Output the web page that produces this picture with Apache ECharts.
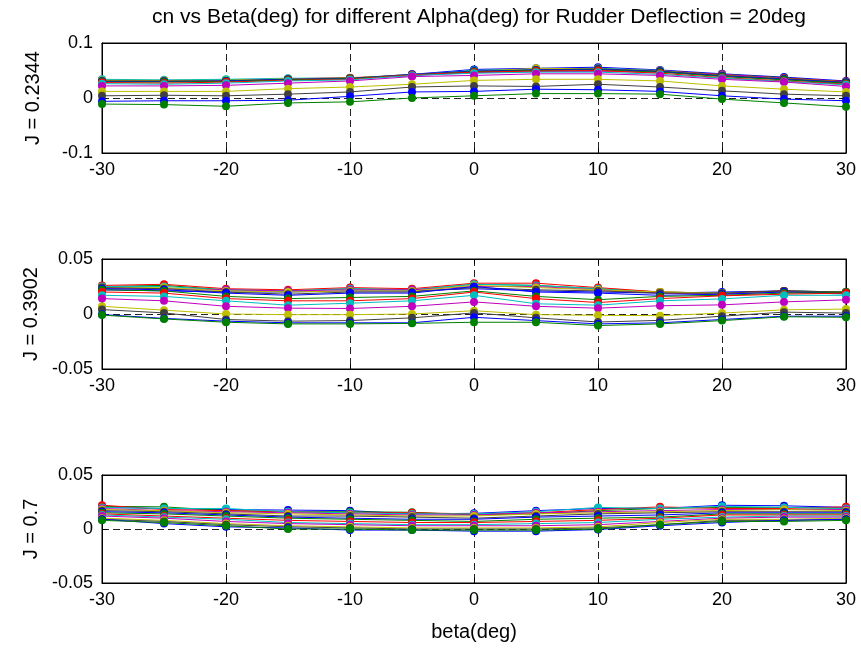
<!DOCTYPE html>
<html>
<head>
<meta charset="utf-8">
<script src="https://cdn.jsdelivr.net/npm/echarts@6/dist/echarts.min.js"></script>
<style>html,body{margin:0;padding:0;background:#fff}#c{width:861px;height:649px}</style>
</head>
<body>
<div id="c"></div>
<script>
const titleText = 'cn vs Beta(deg) for different Alpha(deg) for Rudder Deflection = 20deg';
const xName = 'beta(deg)';
const beta = [-30, -25, -20, -15, -10, -5, 0, 5, 10, 15, 20, 25, 30];
const panelNames = ['J = 0.2344', 'J = 0.3902', 'J = 0.7'];
const yRanges = [[-0.1, 0.1, 0.1], [-0.05, 0.05, 0.05], [-0.05, 0.05, 0.05]];

// 16 alpha series per panel (s1 .. s16)
const cnJ02344 = [
  [0.031, 0.032, 0.032, 0.035, 0.036, 0.043, 0.052, 0.054, 0.056, 0.051, 0.044, 0.038, 0.031],
  [0.032, 0.031, 0.033, 0.034, 0.036, 0.041, 0.050, 0.052, 0.053, 0.049, 0.043, 0.037, 0.028],
  [0.033, 0.031, 0.032, 0.035, 0.037, 0.041, 0.049, 0.052, 0.053, 0.050, 0.042, 0.036, 0.030],
  [0.034, 0.033, 0.034, 0.036, 0.036, 0.042, 0.050, 0.052, 0.054, 0.050, 0.040, 0.034, 0.026],
  [0.030, 0.030, 0.031, 0.034, 0.035, 0.041, 0.046, 0.048, 0.048, 0.047, 0.043, 0.036, 0.024],
  [0.032, 0.032, 0.032, 0.035, 0.036, 0.043, 0.048, 0.054, 0.053, 0.049, 0.041, 0.035, 0.029],
  [0.031, 0.031, 0.031, 0.034, 0.036, 0.042, 0.047, 0.051, 0.053, 0.049, 0.041, 0.035, 0.029],
  [0.030, 0.030, 0.031, 0.034, 0.035, 0.043, 0.049, 0.051, 0.052, 0.048, 0.040, 0.034, 0.028],
  [0.029, 0.029, 0.030, 0.033, 0.035, 0.042, 0.048, 0.050, 0.051, 0.047, 0.039, 0.033, 0.027],
  [0.028, 0.027, 0.029, 0.032, 0.034, 0.042, 0.047, 0.049, 0.050, 0.045, 0.037, 0.031, 0.025],
  [0.026, 0.025, 0.027, 0.031, 0.033, 0.041, 0.045, 0.047, 0.047, 0.043, 0.036, 0.030, 0.024],
  [0.022, 0.022, 0.023, 0.027, 0.031, 0.039, 0.041, 0.044, 0.044, 0.041, 0.034, 0.029, 0.021],
  [0.012, 0.012, 0.012, 0.017, 0.020, 0.025, 0.032, 0.034, 0.034, 0.031, 0.022, 0.016, 0.011],
  [0.004, 0.005, 0.004, 0.007, 0.011, 0.020, 0.022, 0.021, 0.025, 0.020, 0.013, 0.007, 0.004],
  [-0.006, -0.005, -0.005, -0.004, 0.003, 0.011, 0.012, 0.016, 0.015, 0.012, 0.004, -0.002, -0.005],
  [-0.011, -0.012, -0.015, -0.009, -0.007, 0.000, 0.004, 0.008, 0.008, 0.007, -0.002, -0.009, -0.016]
];
const cnJ03902 = [
  [0.022, 0.021, 0.020, 0.020, 0.021, 0.021, 0.023, 0.021, 0.020, 0.019, 0.020, 0.021, 0.020],
  [0.025, 0.026, 0.022, 0.021, 0.023, 0.022, 0.027, 0.026, 0.023, 0.020, 0.019, 0.021, 0.020],
  [0.026, 0.027, 0.023, 0.022, 0.024, 0.023, 0.028, 0.028, 0.024, 0.020, 0.019, 0.021, 0.019],
  [0.025, 0.025, 0.022, 0.021, 0.023, 0.022, 0.027, 0.026, 0.023, 0.019, 0.019, 0.020, 0.018],
  [0.023, 0.023, 0.022, 0.021, 0.022, 0.022, 0.025, 0.025, 0.022, 0.019, 0.018, 0.020, 0.019],
  [0.024, 0.024, 0.021, 0.020, 0.021, 0.021, 0.026, 0.024, 0.022, 0.020, 0.019, 0.020, 0.020],
  [0.024, 0.023, 0.020, 0.018, 0.020, 0.020, 0.024, 0.022, 0.021, 0.019, 0.019, 0.021, 0.020],
  [0.023, 0.022, 0.019, 0.017, 0.019, 0.019, 0.025, 0.020, 0.019, 0.017, 0.018, 0.020, 0.019],
  [0.022, 0.021, 0.016, 0.014, 0.015, 0.016, 0.021, 0.016, 0.013, 0.016, 0.017, 0.019, 0.0195],
  [0.020, 0.019, 0.014, 0.012, 0.012, 0.014, 0.020, 0.014, 0.0104, 0.014, 0.0165, 0.018, 0.019],
  [0.017, 0.016, 0.012, 0.008, 0.0098, 0.012, 0.017, 0.0093, 0.008, 0.012, 0.0137, 0.017, 0.017],
  [0.014, 0.012, 0.007, 0.0053, 0.005, 0.007, 0.011, 0.007, 0.0053, 0.0075, 0.0083, 0.011, 0.0129],
  [0.007, 0.0035, 0.000, -0.0006, -0.0006, 0.000, 0.003, -0.0006, -0.0012, -0.0015, 0.0008, 0.0038, 0.0045],
  [0.004, 0.001, -0.005, -0.0065, -0.006, -0.0035, 0.001, -0.0035, -0.0073, -0.0058, -0.002, 0.0017, 0.0008],
  [-0.0005, -0.004, -0.0065, -0.008, -0.008, -0.008, -0.003, -0.006, -0.009, -0.008, -0.005, -0.002, -0.002],
  [-0.001, -0.0045, -0.0075, -0.009, -0.009, -0.0085, -0.0075, -0.0075, -0.0105, -0.009, -0.006, -0.0025, -0.003]
];
const cnJ07 = [
  [0.020, 0.019, 0.018, 0.0175, 0.017, 0.014, 0.0145, 0.017, 0.019, 0.019, 0.022, 0.0215, 0.020],
  [0.021, 0.0205, 0.017, 0.016, 0.016, 0.0155, 0.013, 0.014, 0.017, 0.019, 0.020, 0.020, 0.019],
  [0.022, 0.018, 0.017, 0.016, 0.015, 0.015, 0.014, 0.015, 0.018, 0.0205, 0.019, 0.019, 0.0205],
  [0.020, 0.019, 0.019, 0.016, 0.015, 0.014, 0.014, 0.016, 0.020, 0.019, 0.021, 0.020, 0.019],
  [0.019, 0.017, 0.016, 0.015, 0.014, 0.013, 0.013, 0.015, 0.016, 0.017, 0.018, 0.018, 0.018],
  [0.018, 0.017, 0.015, 0.014, 0.013, 0.012, 0.012, 0.014, 0.015, 0.016, 0.017, 0.018, 0.017],
  [0.017, 0.016, 0.014, 0.012, 0.012, 0.011, 0.010, 0.012, 0.014, 0.015, 0.016, 0.016, 0.016],
  [0.016, 0.015, 0.013, 0.011, 0.010, 0.009, 0.009, 0.011, 0.012, 0.013, 0.015, 0.015, 0.015],
  [0.015, 0.014, 0.012, 0.010, 0.009, 0.008, 0.007, 0.009, 0.010, 0.011, 0.014, 0.014, 0.014],
  [0.014, 0.012, 0.010, 0.008, 0.007, 0.006, 0.006, 0.007, 0.008, 0.010, 0.013, 0.013, 0.013],
  [0.013, 0.011, 0.009, 0.006, 0.005, 0.004, 0.004, 0.005, 0.006, 0.009, 0.011, 0.012, 0.012],
  [0.012, 0.010, 0.007, 0.005, 0.004, 0.003, 0.003, 0.003, 0.004, 0.007, 0.010, 0.011, 0.011],
  [0.010, 0.008, 0.005, 0.003, 0.002, 0.001, 0.001, 0.001, 0.002, 0.006, 0.009, 0.009, 0.010],
  [0.009, 0.007, 0.004, 0.002, 0.001, 0.000, 0.000, 0.000, 0.001, 0.004, 0.008, 0.008, 0.009],
  [0.009, 0.005, 0.002, 0.001, -0.001, -0.001, -0.002, -0.002, -0.0005, 0.003, 0.006, 0.008, 0.009],
  [0.008, 0.006, 0.003, 0.000, 0.000, -0.001, -0.001, -0.001, 0.000, 0.004, 0.007, 0.007, 0.008]
];
const panels = [cnJ02344, cnJ03902, cnJ07];

const lineColors = ['#0000ff', '#008000', '#ff0000', '#00bfbf', '#bf00bf', '#bfbf00', '#404040'];
const FONT = "'Liberation Sans', Arial, sans-serif";
const gridTops = [43, 259, 475];
const gridHeights = [110, 110, 108];
const dash = [7, 4];

const grids = [], xAxes = [], yAxes = [], series = [];
panels.forEach((rows, p) => {
  grids.push({left: 102, right: 15, top: gridTops[p], height: gridHeights[p], show: true,
    borderColor: '#000', borderWidth: 1, backgroundColor: '#fff'});
  const [ymin, ymax, yint] = yRanges[p];
  xAxes.push({type: 'value', gridIndex: p, position: 'bottom', min: -30, max: 30, interval: 10,
    axisLine: {onZero: false, lineStyle: {color: '#000'}},
    axisTick: {inside: true, length: 5, lineStyle: {color: '#000'}},
    axisLabel: {color: '#000', fontSize: 18, fontFamily: FONT, margin: 8},
    splitLine: {show: true, lineStyle: {color: '#222', type: dash, width: 1}},
    name: p === 2 ? xName : '', nameLocation: 'middle', nameGap: 39,
    nameTextStyle: {color: '#000', fontSize: 20, fontFamily: FONT}});
  xAxes.push({type: 'value', gridIndex: p, position: 'top', min: -30, max: 30, interval: 10,
    axisLine: {onZero: false, lineStyle: {color: '#000'}},
    axisTick: {inside: true, length: 5, lineStyle: {color: '#000'}},
    axisLabel: {show: false}, splitLine: {show: false}});
  yAxes.push({type: 'value', gridIndex: p, position: 'left', min: ymin, max: ymax, interval: yint,
    axisLine: {show: true, onZero: false, lineStyle: {color: '#000'}},
    axisTick: {show: true, inside: true, length: 5, lineStyle: {color: '#000'}},
    axisLabel: {color: '#000', fontSize: 18, fontFamily: FONT, margin: 9},
    splitLine: {show: true, lineStyle: {color: '#222', type: dash, width: 1}},
    name: panelNames[p], nameLocation: 'middle', nameGap: 59,
    nameTextStyle: {color: '#000', fontSize: 20, fontFamily: FONT}});
  yAxes.push({type: 'value', gridIndex: p, position: 'right', min: ymin, max: ymax, interval: yint,
    axisLine: {show: true, onZero: false, lineStyle: {color: '#000'}},
    axisTick: {show: true, inside: true, length: 5, lineStyle: {color: '#000'}},
    axisLabel: {show: false}, splitLine: {show: false}});
  rows.forEach((vals, s) => {
    const col = lineColors[s % lineColors.length];
    series.push({type: 'line', xAxisIndex: 2 * p, yAxisIndex: 2 * p,
      data: beta.map((b, j) => [b, vals[j]]),
      symbol: 'circle', symbolSize: 8, showSymbol: true,
      lineStyle: {color: col, width: 1}, itemStyle: {color: col, borderWidth: 0},
      animation: false, silent: true});
  });
});

const chart = echarts.init(document.getElementById('c'), null, {renderer: 'canvas'});
chart.setOption({
  backgroundColor: '#fff',
  animation: false,
  title: {text: titleText, left: 474, top: 2, textAlign: 'center',
    textStyle: {color: '#000', fontSize: 21, fontWeight: 'normal', fontFamily: FONT}},
  grid: grids, xAxis: xAxes, yAxis: yAxes, series: series
});
</script>
</body>
</html>
